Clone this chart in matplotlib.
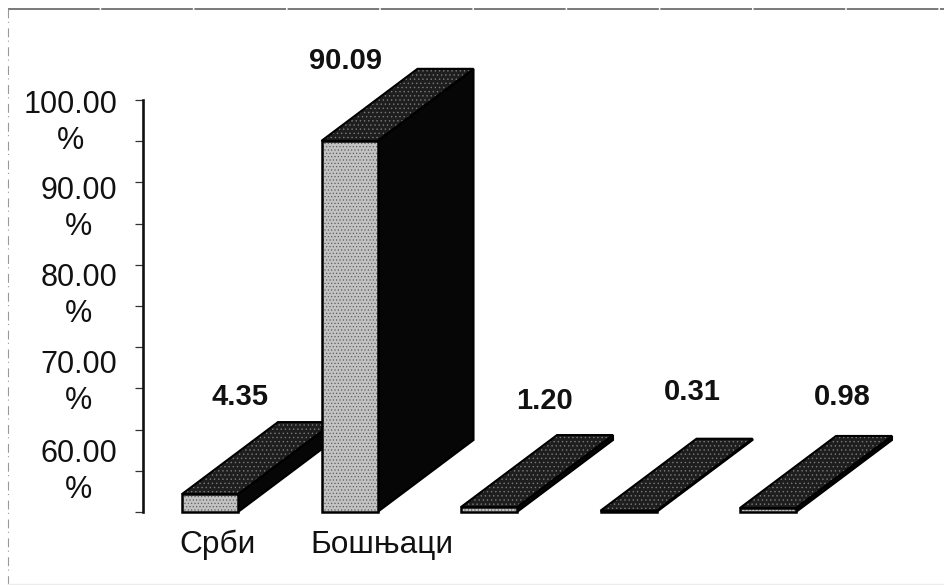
import matplotlib
matplotlib.use('Agg')
import matplotlib.pyplot as plt

categories = ['Срби', 'Бошњаци', '', '', '']
values = [4.35, 90.09, 1.20, 0.31, 0.98]
value_text = ['4.35', '90.09', '1.20', '0.31', '0.98']
axis_ticks = [0, 10, 20, 30, 40, 50, 60, 70, 80, 90, 100]
axis_labels = ['100.00\n%', '90.00\n%', '80.00\n%', '70.00\n%', '60.00\n%']

# layout, in pixels of the 944x585 picture
base_px = 512
scale = 4.12  # pixels per percent
bar_left = 182
bar_step = 139.5
bar_w = 56
depth_x = 96
depth_y = 72
label_y_px = [123, 209, 296, 383, 472]
value_x_px = [240, 346, 544, 692, 842]
value_y_px = [397, 61, 401, 392, 397]
cat_x_px = [218, 382]
cat_y_px = 545

plt.rcParams['font.family'] = ['Liberation Sans', 'DejaVu Sans']
plt.rcParams['hatch.linewidth'] = 0.5


def py(px):
    return (base_px - px) / scale


fig = plt.figure(figsize=(9.44, 5.85), dpi=100)
ax = fig.add_axes([0, 0, 1, 1])
ax.set_xlim(0, 944)
ax.set_ylim(py(585), py(0))

for s in ['top', 'right', 'bottom']:
    ax.spines[s].set_visible(False)
ax.spines['left'].set_position(('data', 143))
ax.spines['left'].set_bounds(0, 100)
ax.spines['left'].set_linewidth(1.9)
ax.spines['left'].set_color('#111111')
ax.set_xticks([])
ax.set_yticks(axis_ticks)
ax.set_yticklabels([])
ax.tick_params(axis='y', length=6, width=0.9, color='#333333')

dy = depth_y / scale
for i, v in enumerate(values):
    x0 = bar_left + i * bar_step
    x1 = x0 + bar_w
    # back bars first, the tall one covers the first bar's top
    z = 3 if i == 1 else 2
    side = [(x1, 0), (x1 + depth_x, dy), (x1 + depth_x, v + dy), (x1, v)]
    top = [(x0, v), (x0 + depth_x, v + dy), (x1 + depth_x, v + dy), (x1, v)]
    front = [(x0, 0), (x1, 0), (x1, v), (x0, v)]
    ax.fill(*zip(*side), facecolor='#060606', edgecolor='#000000', lw=1.5, zorder=z)
    ax.fill(*zip(*top), facecolor='#1e1e1e', edgecolor='#7a7a7a', hatch='....', lw=0, zorder=z)
    ax.fill(*zip(*top), facecolor='none', edgecolor='#000000', lw=1.5, zorder=z)
    ax.fill(*zip(*front), facecolor='#c2c2c2', edgecolor='#5e5e5e', hatch='.....', lw=0, zorder=z)
    ax.fill(*zip(*front), facecolor='none', edgecolor='#000000', lw=1.8, zorder=z)
    ax.text(value_x_px[i], py(value_y_px[i]), value_text[i], fontsize=21, fontweight='bold',
            ha='center', va='center', color='#111111', zorder=5)

for y, lab in zip(label_y_px, axis_labels):
    ax.text(117, py(y), lab, fontsize=22, ha='right', va='center', multialignment='center',
            linespacing=1.22, color='#111111')

for x, c in zip(cat_x_px, categories):
    ax.text(x, py(cat_y_px), c, fontsize=22.8, ha='center', va='center', color='#111111')

# scanned frame round the chart
ax.plot([8, 944], [py(9), py(9)], color='#555555', lw=1.1, ls=(0, (60, 1)))
ax.plot([8, 8], [py(9), py(585)], color='#999999', lw=0.8, ls=(0, (8, 3, 1, 5)))
ax.plot([8, 944], [py(584), py(584)], color='#ececec', lw=1)

fig.savefig('out.png', dpi=100)
